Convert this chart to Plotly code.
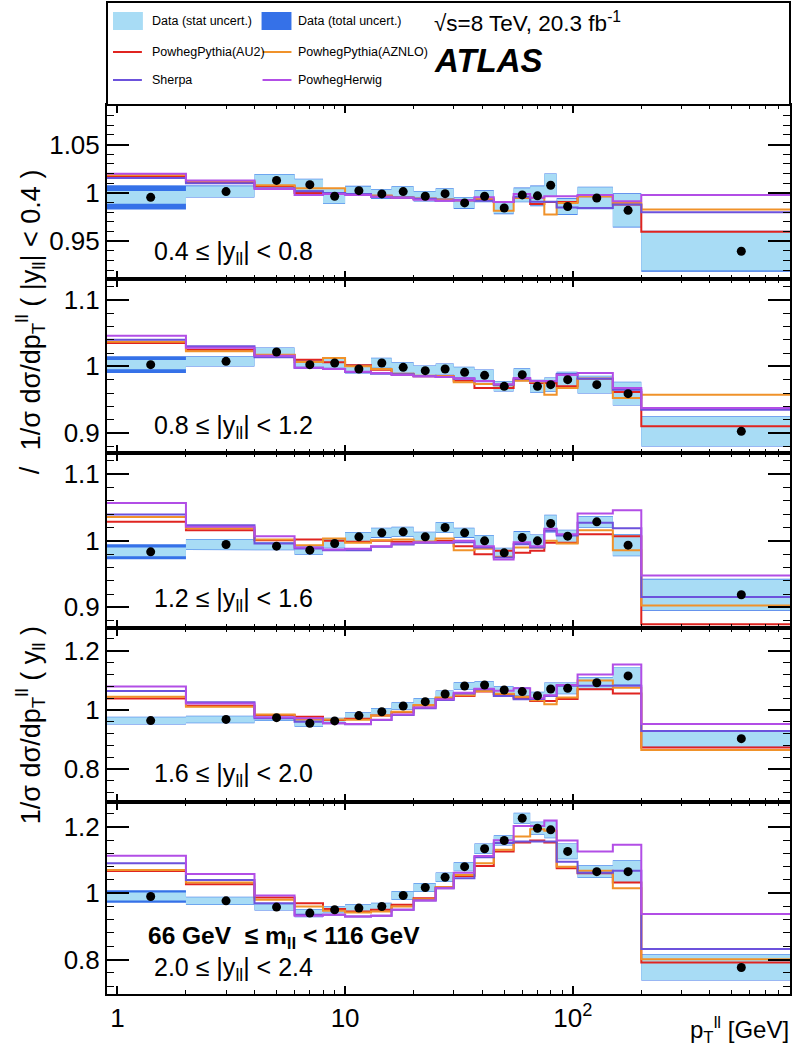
import plotly.graph_objects as go
import math

# ---------------- data ----------------
# bin edges in pT(ll) [GeV]; first bin is 0-2 GeV (lower edge placed below the axis minimum on the log scale)
edges = [0.5, 2, 4, 6, 8, 10, 13, 16, 20, 25, 30, 37, 45, 55, 65, 75, 85, 105, 150, 200, 900]
pt_x = [1.4, 3, 5, 7, 9, 11.5, 14.5, 18, 22.5, 27.5, 33.5, 41, 50, 60, 70, 80, 95, 127.5, 175, 550]

x_tickvals = [1, 10, 100]
x_ticktext = ["1", "10", "10<sup>2</sup>"]

labels = ["0.4 ≤ |y<sub>ll</sub>| < 0.8", "0.8 ≤ |y<sub>ll</sub>| < 1.2", "1.2 ≤ |y<sub>ll</sub>| < 1.6",
          "1.6 ≤ |y<sub>ll</sub>| < 2.0", "2.0 ≤ |y<sub>ll</sub>| < 2.4"]

# panel 1 : 0.4 <= |y| < 0.8
data1 = [0.9955, 1.0014, 1.013, 1.0086, 0.9966, 1.0024, 0.999, 1.0014, 0.9966, 0.9993, 0.9897, 0.9966, 0.9845, 0.998, 0.997, 1.008, 0.986, 0.9948, 0.982, 0.9397]
stat1 = [0.0066, 0.0055, 0.006, 0.0055, 0.0074, 0.0043, 0.0045, 0.005, 0.0048, 0.005, 0.0055, 0.0055, 0.0057, 0.007, 0.01, 0.0115, 0.008, 0.011, 0.017, 0.0198]
tot1 = [0.0126, 0.0062, 0.0066, 0.0062, 0.008, 0.005, 0.0052, 0.0056, 0.0055, 0.0056, 0.0062, 0.0062, 0.0064, 0.0077, 0.0107, 0.0122, 0.0087, 0.0117, 0.0178, 0.0212]
au2_1 = [1.017, 1.011, 1.007, 1.0, 0.999, 0.999, 0.997, 0.995, 0.994, 0.993, 0.9925, 0.993, 0.9907, 0.995, 0.9886, 0.9907, 0.9907, 0.9966, 0.988, 0.960]
aznlo_1 = [1.0185, 1.012, 1.008, 1.005, 1.005, 0.999, 0.997, 0.995, 0.994, 0.993, 0.9925, 0.994, 0.9817, 0.995, 0.995, 0.9776, 0.9897, 0.9966, 0.990, 0.983]
sherpa_1 = [1.0155, 1.010, 1.005, 1.0017, 1.0, 0.999, 0.996, 0.995, 0.994, 0.992, 0.9925, 0.992, 0.9907, 0.996, 0.991, 0.991, 0.985, 0.9845, 0.988, 0.980]
herwig_1 = [1.020, 1.0128, 1.004, 0.998, 0.999, 0.998, 0.996, 0.995, 0.993, 0.992, 0.9925, 0.9955, 0.9907, 0.999, 0.995, 0.9966, 0.9966, 0.998, 0.9914, 0.998]

# panel 2 : 0.8 <= |y| < 1.2
data2 = [1.0025, 1.0075, 1.0215, 1.0025, 1.005, 0.996, 1.005, 0.9985, 0.9935, 0.996, 0.991, 0.9865, 0.970, 0.9875, 0.970, 0.9725, 0.980, 0.9725, 0.959, 0.9025]
stat2 = [0.007, 0.007, 0.006, 0.0055, 0.006, 0.006, 0.007, 0.007, 0.007, 0.0075, 0.0075, 0.008, 0.007, 0.009, 0.009, 0.010, 0.011, 0.0125, 0.017, 0.022]
tot2 = [0.0125, 0.0078, 0.0068, 0.0063, 0.0068, 0.0068, 0.0078, 0.0078, 0.0078, 0.0083, 0.0083, 0.0088, 0.0078, 0.0098, 0.0098, 0.0108, 0.0118, 0.0133, 0.0178, 0.0228]
au2_2 = [1.035, 1.025, 1.017, 1.010, 1.006, 1.0015, 0.995, 0.988, 0.985, 0.985, 0.9785, 0.9675, 0.9675, 0.980, 0.975, 0.975, 0.970, 0.9815, 0.9615, 0.910]
aznlo_2 = [1.037, 1.0225, 1.0175, 1.0065, 1.0125, 1.0, 0.996, 0.989, 0.986, 0.985, 0.976, 0.9735, 0.9715, 0.9785, 0.9765, 0.9575, 0.9675, 0.9815, 0.9525, 0.9575]
sherpa_2 = [1.040, 1.030, 1.0135, 0.998, 0.996, 0.9915, 0.989, 0.988, 0.985, 0.984, 0.9815, 0.9775, 0.9725, 0.9815, 0.9775, 0.9775, 0.9885, 0.9815, 0.965, 0.935]
herwig_2 = [1.046, 1.028, 1.016, 0.998, 0.996, 0.992, 0.990, 0.987, 0.985, 0.984, 0.982, 0.978, 0.973, 0.9825, 0.978, 0.978, 0.987, 0.990, 0.9675, 0.9375]

# panel 3 : 1.2 <= |y| < 1.6
data3 = [0.9835, 0.9945, 0.992, 0.986, 0.996, 1.006, 1.012, 1.0135, 1.006, 1.020, 1.012, 1.0, 0.982, 1.005, 1.0, 1.026, 1.007, 1.0285, 0.9935, 0.919]
stat3 = [0.0065, 0.0075, 0.0055, 0.006, 0.0065, 0.0065, 0.0068, 0.007, 0.0068, 0.0075, 0.0068, 0.008, 0.0068, 0.0088, 0.0088, 0.0125, 0.0088, 0.008, 0.016, 0.023]
tot3 = [0.0112, 0.0083, 0.0063, 0.0068, 0.0073, 0.0073, 0.0076, 0.0078, 0.0076, 0.0083, 0.0076, 0.0088, 0.0076, 0.0096, 0.0096, 0.0133, 0.0096, 0.0088, 0.0168, 0.024]
au2_3 = [1.0285, 1.016, 1.001, 1.002, 1.0, 0.9985, 1.0, 0.9985, 0.998, 1.0, 0.992, 0.980, 0.985, 0.982, 0.985, 0.997, 0.997, 1.010, 1.007, 0.8745]
aznlo_3 = [1.036, 1.019, 1.002, 0.9935, 1.0035, 0.997, 1.001, 1.002, 0.999, 1.0035, 0.986, 0.988, 0.976, 0.990, 0.990, 1.0, 0.996, 1.016, 0.986, 0.903]
sherpa_3 = [1.0395, 1.0235, 0.996, 0.9885, 0.986, 0.986, 0.991, 0.9945, 0.997, 0.997, 0.998, 0.990, 0.975, 0.995, 0.990, 1.015, 1.008, 1.027, 1.019, 0.9155]
herwig_3 = [1.057, 1.021, 1.007, 0.990, 0.987, 0.988, 0.992, 0.996, 0.998, 0.998, 1.0, 0.992, 0.972, 0.998, 0.992, 1.018, 1.010, 1.041, 1.046, 0.948]

# panel 4 : 1.6 <= |y| < 2.0
data4 = [0.964, 0.968, 0.974, 0.955, 0.963, 0.981, 0.994, 1.0135, 1.028, 1.054, 1.081, 1.0845, 1.0676, 1.062, 1.048, 1.071, 1.073, 1.092, 1.115, 0.903]
stat4 = [0.011, 0.011, 0.010, 0.010, 0.009, 0.010, 0.011, 0.011, 0.011, 0.010, 0.011, 0.011, 0.011, 0.013, 0.012, 0.020, 0.018, 0.018, 0.029, 0.025]
tot4 = [0.013, 0.0125, 0.0115, 0.0115, 0.0105, 0.0115, 0.0125, 0.0125, 0.0125, 0.0115, 0.0125, 0.0125, 0.0125, 0.0145, 0.0135, 0.0215, 0.0195, 0.0195, 0.0305, 0.0265]
au2_4 = [1.039, 1.0146, 0.983, 0.977, 0.966, 0.970, 0.981, 0.992, 1.015, 1.040, 1.047, 1.062, 1.053, 1.040, 1.030, 1.030, 1.037, 1.070, 1.056, 0.873]
aznlo_4 = [1.045, 1.011, 0.985, 0.968, 0.968, 0.967, 0.981, 0.994, 1.017, 1.042, 1.050, 1.064, 1.055, 1.045, 1.033, 1.019, 1.042, 1.100, 1.075, 0.865]
sherpa_4 = [1.064, 1.026, 0.972, 0.960, 0.955, 0.9515, 0.966, 0.983, 1.0056, 1.034, 1.056, 1.070, 1.047, 1.036, 1.037, 1.047, 1.082, 1.082, 1.082, 0.929]
herwig_4 = [1.079, 1.022, 0.975, 0.972, 0.955, 0.953, 0.967, 0.985, 1.008, 1.036, 1.058, 1.072, 1.065, 1.073, 1.040, 1.050, 1.0845, 1.120, 1.154, 0.953]

# panel 5 : 2.0 <= |y| < 2.4
data5 = [0.990, 0.977, 0.958, 0.940, 0.950, 0.955, 0.960, 0.993, 1.017, 1.048, 1.080, 1.134, 1.159, 1.226, 1.196, 1.191, 1.126, 1.065, 1.065, 0.776]
stat5 = [0.012, 0.011, 0.009, 0.011, 0.009, 0.010, 0.010, 0.012, 0.012, 0.013, 0.012, 0.014, 0.014, 0.015, 0.018, 0.024, 0.022, 0.018, 0.033, 0.038]
tot5 = [0.019, 0.0125, 0.0105, 0.0125, 0.0105, 0.0115, 0.0115, 0.0135, 0.0135, 0.0145, 0.0135, 0.0155, 0.0155, 0.0165, 0.0195, 0.0255, 0.0235, 0.0195, 0.0345, 0.0395]
au2_5 = [1.067, 1.027, 0.987, 0.970, 0.952, 0.945, 0.950, 0.965, 0.985, 1.018, 1.052, 1.082, 1.126, 1.153, 1.159, 1.153, 1.075, 1.060, 1.032, 0.791]
aznlo_5 = [1.070, 1.032, 0.980, 0.960, 0.947, 0.942, 0.945, 0.960, 0.982, 1.018, 1.055, 1.090, 1.131, 1.171, 1.193, 1.188, 1.080, 1.068, 1.015, 0.801]
sherpa_5 = [1.090, 1.040, 0.970, 0.935, 0.935, 0.930, 0.932, 0.950, 0.978, 1.015, 1.045, 1.1085, 1.151, 1.156, 1.156, 1.156, 1.095, 1.062, 1.068, 0.832]
herwig_5 = [1.1126, 1.058, 0.993, 0.932, 0.935, 0.930, 0.932, 0.950, 0.978, 1.015, 1.062, 1.112, 1.160, 1.203, 1.203, 1.219, 1.159, 1.126, 1.146, 0.937]

y_ranges = [[0.911, 1.091], [0.870, 1.131], [0.869, 1.132], [0.689, 1.277], [0.696, 1.275]]
y_tickvals = [[0.95, 1.0, 1.05], [0.9, 1.0, 1.1], [0.9, 1.0, 1.1], [0.8, 1.0, 1.2], [0.8, 1.0, 1.2]]
y_ticktext = [["0.95", "1", "1.05"], ["0.9", "1", "1.1"], ["0.9", "1", "1.1"], ["0.8", "1", "1.2"], ["0.8", "1", "1.2"]]
y_minor = [0.01, 0.02, 0.02, 0.04, 0.04]

# ---------------- style ----------------
FONT = "Liberation Sans, Arial, Helvetica, sans-serif"
C_STAT = "#a8dcf5"
C_TOT = "#3571e8"
C_AU2 = "#e02420"
C_AZNLO = "#f0922a"
C_SHERPA = "#6c52dc"
C_HERWIG = "#b24ee6"

W, H = 796, 1060
L, R, T, B = 107, 792, 105, 994
panel_px = [(105, 279), (279, 453), (453, 628), (628, 802), (802, 994)]


def px(x):
    return (x - L) / (R - L)


def py(y):
    return (B - y) / (B - T)


panels = [
    (data1, stat1, tot1, au2_1, aznlo_1, sherpa_1, herwig_1),
    (data2, stat2, tot2, au2_2, aznlo_2, sherpa_2, herwig_2),
    (data3, stat3, tot3, au2_3, aznlo_3, sherpa_3, herwig_3),
    (data4, stat4, tot4, au2_4, aznlo_4, sherpa_4, herwig_4),
    (data5, stat5, tot5, au2_5, aznlo_5, sherpa_5, herwig_5),
]


def band(vals, errs):
    xs, ys = [], []
    for i, (v, e) in enumerate(zip(vals, errs)):
        xs += [edges[i], edges[i + 1]]
        ys += [v + e, v + e]
    for i in range(len(vals) - 1, -1, -1):
        xs += [edges[i + 1], edges[i]]
        ys += [vals[i] - errs[i], vals[i] - errs[i]]
    xs.append(xs[0])
    ys.append(ys[0])
    return xs, ys


fig = go.Figure()
for k, (dat, st, tt, a1, a2, sh, hw) in enumerate(panels):
    xa = "x" if k == 0 else f"x{k + 1}"
    ya = "y" if k == 0 else f"y{k + 1}"
    bx, by = band(dat, tt)
    fig.add_trace(go.Scatter(x=bx, y=by, mode="lines", fill="toself", fillcolor=C_TOT,
                             line=dict(width=0, color=C_TOT), xaxis=xa, yaxis=ya,
                             showlegend=False, hoverinfo="skip"))
    bx, by = band(dat, st)
    fig.add_trace(go.Scatter(x=bx, y=by, mode="lines", fill="toself", fillcolor=C_STAT,
                             line=dict(width=0, color=C_STAT), xaxis=xa, yaxis=ya,
                             showlegend=False, hoverinfo="skip"))
    for vals, col in [(a1, C_AU2), (a2, C_AZNLO), (sh, C_SHERPA), (hw, C_HERWIG)]:
        fig.add_trace(go.Scatter(x=edges, y=list(vals) + [vals[-1]], mode="lines",
                                 line=dict(color=col, width=2, shape="hv"),
                                 xaxis=xa, yaxis=ya, showlegend=False))
    fig.add_trace(go.Scatter(x=pt_x, y=dat, mode="markers",
                             marker=dict(color="black", size=9),
                             xaxis=xa, yaxis=ya, showlegend=False, cliponaxis=True))

minor_x = [m * 10 ** d for d in range(0, 3) for m in range(2, 10)]
layout = dict(width=W, height=H, margin=dict(l=L, r=W - R, t=T, b=H - B),
              paper_bgcolor="white", plot_bgcolor="white",
              font=dict(family=FONT, color="black"), showlegend=False)
for k in range(5):
    sx = "" if k == 0 else str(k + 1)
    top, bot = panel_px[k]
    layout["xaxis" + sx] = dict(
        type="log", range=[math.log10(0.9), math.log10(900)], domain=[0, 1],
        anchor="y" + sx, showline=True, linecolor="black", linewidth=2, mirror="allticks",
        ticks="inside", ticklen=8, tickwidth=1.5, tickcolor="black",
        tickmode="array", tickvals=x_tickvals, ticktext=x_ticktext,
        showticklabels=(k == 4), tickfont=dict(size=26, family=FONT),
        minor=dict(ticks="inside", ticklen=4, tickwidth=1.2, tickcolor="black",
                   tickmode="array", tickvals=minor_x, showgrid=False),
        showgrid=False, zeroline=False)
    layout["yaxis" + sx] = dict(
        domain=[py(bot), py(top)], range=y_ranges[k], anchor="x" + sx,
        showline=True, linecolor="black", linewidth=2, mirror="allticks",
        ticks="inside", ticklen=22, tickwidth=1.5, tickcolor="black",
        tickmode="array", tickvals=y_tickvals[k], ticktext=y_ticktext[k],
        tickfont=dict(size=26, family=FONT),
        minor=dict(ticks="inside", ticklen=7, tickwidth=1.2, tickcolor="black",
                   tick0=0, dtick=y_minor[k], showgrid=False),
        showgrid=False, zeroline=False)
fig.update_layout(**layout)

shapes = []
annos = []
# legend box
shapes.append(dict(type="rect", xref="paper", yref="paper", x0=px(107), x1=px(792),
                   y0=py(105), y1=py(2), line=dict(color="black", width=2), fillcolor="white"))
shapes.append(dict(type="rect", xref="paper", yref="paper", x0=px(113), x1=px(143),
                   y0=py(30), y1=py(12), line=dict(width=0), fillcolor=C_STAT))
shapes.append(dict(type="rect", xref="paper", yref="paper", x0=px(262), x1=px(292),
                   y0=py(30), y1=py(12), line=dict(width=0), fillcolor=C_TOT))
for (x0, yy, col) in [(113, 52, C_AU2), (263, 52, C_AZNLO), (113, 80, C_SHERPA), (263, 80, C_HERWIG)]:
    shapes.append(dict(type="line", xref="paper", yref="paper", x0=px(x0), x1=px(x0 + 29),
                       y0=py(yy), y1=py(yy), line=dict(color=col, width=2)))
for (x0, yy, txt) in [(150, 21, "Data (stat uncert.)"), (297, 21, "Data (total uncert.)"),
                      (150, 52, "PowhegPythia(AU2)"), (297, 52, "PowhegPythia(AZNLO)"),
                      (150, 80, "Sherpa"), (297, 80, "PowhegHerwig")]:
    annos.append(dict(xref="paper", yref="paper", x=px(x0), y=py(yy), text=txt, showarrow=False,
                      xanchor="left", yanchor="middle", font=dict(size=12.5, family=FONT)))
annos.append(dict(xref="paper", yref="paper", x=px(433), y=py(22), showarrow=False,
                  text="√s=8 TeV, 20.3 fb<sup>-1</sup>", xanchor="left", yanchor="middle",
                  font=dict(size=22.5, family=FONT)))
annos.append(dict(xref="paper", yref="paper", x=px(433), y=py(61), showarrow=False,
                  text="<b><i>ATLAS</i></b>", xanchor="left", yanchor="middle",
                  font=dict(size=33, family=FONT)))
# panel labels
label_y = [253, 427, 600, 775, 969]
for k in range(5):
    annos.append(dict(xref="paper", yref="paper", x=px(152), y=py(label_y[k]), text=labels[k],
                      showarrow=False, xanchor="left", yanchor="middle",
                      font=dict(size=25, family=FONT)))
annos.append(dict(xref="paper", yref="paper", x=px(146), y=py(937), showarrow=False,
                  text="<b>66 GeV  ≤ m<sub>ll</sub> < 116 GeV</b>", xanchor="left", yanchor="middle",
                  font=dict(size=24.5, family=FONT)))
# axis titles
annos.append(dict(xref="paper", yref="paper", x=px(793), y=py(1030), showarrow=False,
                  text="p<sub>T</sub><sup>ll</sup> [GeV]", xanchor="right", yanchor="middle",
                  font=dict(size=24, family=FONT)))
for (yy, txt) in [(310, "1/σ dσ/dp<sub>T</sub><sup>ll</sup> ( |y<sub>ll</sub>| < 0.4 )"),
                  (470, "/"),
                  (725, "1/σ dσ/dp<sub>T</sub><sup>ll</sup> (\u00a0y<sub>ll</sub>\u00a0)")]:
    annos.append(dict(xref="paper", yref="paper", x=px(30), y=py(yy), showarrow=False, text=txt,
                      textangle=-90, xanchor="center", yanchor="middle",
                      font=dict(size=27, family=FONT)))
fig.update_layout(shapes=shapes, annotations=annos)
fig.write_html("out.html", config={"displayModeBar": False},
               post_script="document.body.style.margin='0px';document.body.style.overflow='hidden';")
